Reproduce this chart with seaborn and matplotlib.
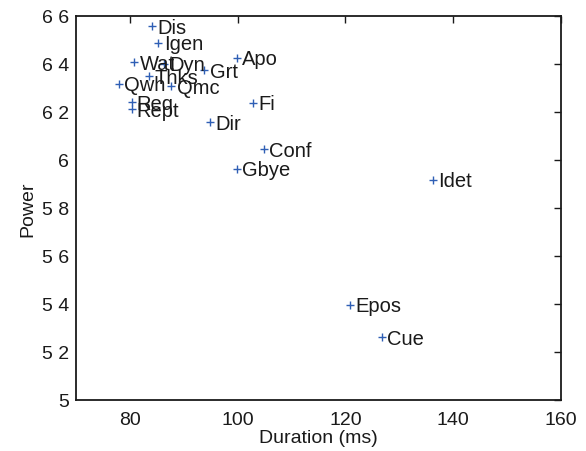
import matplotlib
matplotlib.use("Agg")
import matplotlib.pyplot as plt
import seaborn as sns
import pandas as pd

labels = ["Dis", "Igen", "Wat", "Dyn", "Thks", "Grt", "Apo", "Qwh", "Qmc", "Req",
          "Rept", "Fi", "Dir", "Conf", "Gbye", "Idet", "Epos", "Cue"]
duration = [84.1, 85.3, 80.8, 86.4, 83.6, 93.8, 99.8, 78.0, 87.7, 80.3,
            80.3, 102.8, 94.8, 104.8, 99.9, 136.3, 120.9, 126.8]
power = [6.558, 6.488, 6.408, 6.401, 6.348, 6.373, 6.426, 6.318, 6.307, 6.242,
         6.211, 6.239, 6.158, 6.044, 5.964, 5.918, 5.397, 5.261]

xticks = [80, 100, 120, 140, 160]
yticks = [5.0, 5.2, 5.4, 5.6, 5.8, 6.0, 6.2, 6.4, 6.6]
yticklabels = ["5", "5 2", "5 4", "5 6", "5 8", "6", "6 2", "6 4", "6 6"]

df = pd.DataFrame({"label": labels, "duration": duration, "power": power})

sns.set_style("white")
plt.rcParams["font.family"] = ["Liberation Sans", "DejaVu Sans"]

fig = plt.figure(figsize=(5.86, 4.52), dpi=100)
ax = fig.add_axes([76 / 586, 1 - 401 / 452, (561 - 76) / 586, (401 - 17) / 452])

sns.scatterplot(data=df, x="duration", y="power", marker="+", color="#2f5fb5",
                s=26, linewidth=1.0, ax=ax, legend=False)

for lab, xv, yv in zip(labels, duration, power):
    ax.annotate(lab, (xv, yv), xytext=(3.8, -0.8), textcoords="offset points",
                ha="left", va="center", fontsize=14.5, color="#1a1a1a")

ax.set_xlim(70, 160)
ax.set_ylim(5.0, 6.6)
ax.set_xticks(xticks)
ax.set_xticklabels([str(t) for t in xticks])
ax.set_yticks(yticks)
ax.set_yticklabels(yticklabels)
ax.tick_params(direction="in", length=5, width=1, top=True, right=True,
               labelsize=14, colors="#1a1a1a", pad=5)
ax.tick_params(axis="x", labeltop=False, pad=8)
ax.tick_params(axis="y", labelright=False)
for sp in ax.spines.values():
    sp.set_visible(True)
    sp.set_linewidth(1.3)
    sp.set_color("#1a1a1a")
ax.set_xlabel("Duration (ms)", fontsize=14, color="#1a1a1a", labelpad=1)
ax.set_ylabel("Power", fontsize=14, color="#1a1a1a", labelpad=4)

fig.savefig("out.png", dpi=100)
